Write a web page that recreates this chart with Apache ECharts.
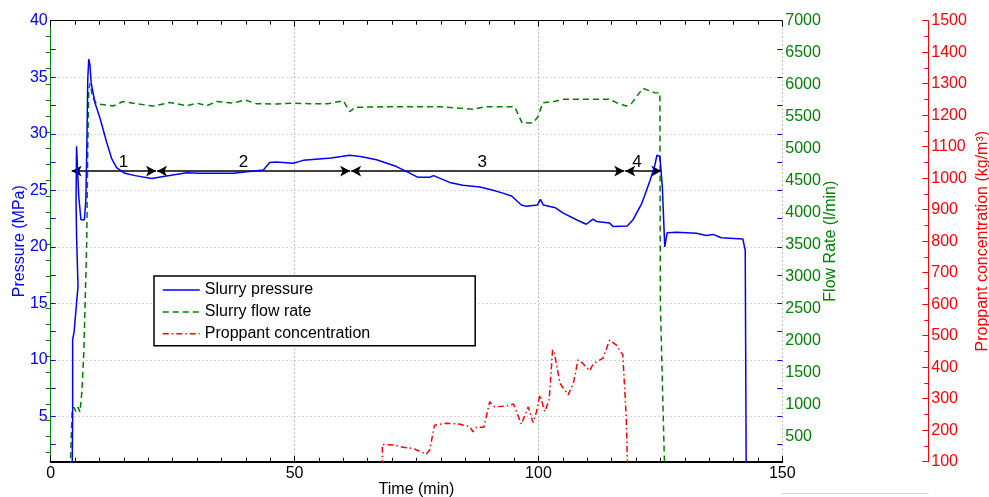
<!DOCTYPE html>
<html>
<head>
<meta charset="utf-8">
<script src="https://cdn.jsdelivr.net/npm/echarts@6/dist/echarts.min.js"></script>
<style>
html,body{margin:0;padding:0;background:#fff}
#main{width:989px;height:497px}
</style>
</head>
<body>
<div id="main"></div>
<script>
// slurry pressure (MPa) vs time (min)
var pressureTime = [4.4, 4.5, 4.5, 4.8, 5.6, 5.3, 5.2, 5.3, 5.65, 5.75, 6.2, 6.9, 7.2, 7.4, 7.6, 7.8, 8.05, 8.3, 9.1, 10.1, 11.5, 12.5, 13.5, 15.2, 17.3, 20.7, 23.4, 27.9, 30.6, 37.4, 43.6, 44.9, 46.3, 49.7, 51.8, 57.5, 61.3, 63.5, 66.8, 70.9, 73.0, 75.3, 77.7, 78.5, 81.8, 84.5, 88.0, 90.7, 92.7, 94.5, 96.5, 97.5, 99.8, 100.4, 101.0, 103.5, 105.0, 107.8, 109.8, 111.2, 111.9, 114.6, 115.3, 118.2, 119.4, 121.2, 122.9, 123.8, 124.3, 124.9, 125.4, 125.9, 126.4, 128.3, 132.4, 134.4, 135.8, 137.5, 141.9, 142.4, 142.6];
var pressureVal = [0, 5, 11.8, 12.5, 16.5, 21.0, 24.0, 28.9, 28.8, 24.5, 22.4, 22.4, 24.1, 28.6, 34.8, 36.6, 36.1, 34.5, 32.7, 31.4, 29.2, 27.8, 27.0, 26.5, 26.3, 26.05, 26.25, 26.55, 26.5, 26.5, 26.8, 27.45, 27.5, 27.4, 27.65, 27.85, 28.1, 28.0, 27.7, 27.1, 26.65, 26.15, 26.15, 26.3, 25.7, 25.45, 25.3, 25.0, 24.75, 24.5, 23.7, 23.6, 23.7, 24.2, 23.7, 23.45, 23.0, 22.4, 22.0, 22.45, 22.25, 22.1, 21.8, 21.85, 22.4, 23.85, 25.9, 27.1, 28.1, 28.0, 25.3, 20.0, 21.25, 21.3, 21.2, 21.0, 21.1, 20.8, 20.7, 19.7, 0];

// slurry flow rate (l/min)
var flowTime = [4.0, 4.4, 4.8, 5.2, 5.6, 6.0, 6.4, 6.8, 7.1, 7.4, 7.6, 7.8, 8.05, 8.6, 9.4, 12.8, 14.8, 17.6, 21.0, 24.4, 27.9, 29.9, 32.0, 34.0, 37.4, 39.8, 42.2, 46.3, 49.7, 53.1, 56.8, 60.0, 61.3, 62.4, 70.0, 80.0, 86.6, 89.0, 95.1, 96.7, 98.9, 99.9, 100.9, 103.0, 105.0, 111.9, 114.6, 116.0, 118.0, 119.1, 121.4, 123.8, 124.9, 125.0, 125.8, 125.9];
var flowVal = [0, 900, 950, 880, 950, 880, 1200, 1830, 2700, 3600, 5000, 5900, 6020, 5800, 5700, 5665, 5735, 5700, 5665, 5720, 5670, 5710, 5670, 5735, 5710, 5760, 5700, 5697, 5710, 5700, 5700, 5748, 5576, 5645, 5654, 5654, 5613, 5654, 5654, 5394, 5404, 5497, 5717, 5732, 5770, 5770, 5770, 5717, 5665, 5707, 5942, 5873, 5870, 2580, 180, 0];

// proppant concentration (kg/m3)
var propTime = [68.0, 68.0, 70.2, 72.3, 74.3, 77.0, 77.7, 78.7, 81.1, 83.9, 85.9, 86.6, 87.3, 88.8, 90.0, 91.0, 93.4, 94.9, 96.5, 97.9, 98.9, 99.6, 100.3, 101.3, 102.2, 102.9, 103.3, 104.4, 106.1, 107.2, 108.1, 109.1, 110.5, 111.3, 113.2, 114.6, 116.0, 117.3, 118.0, 118.4];
var propVal = [0, 155, 153, 146, 142, 124, 137, 216, 222, 219, 211, 195, 209, 209, 290, 274, 277, 283, 219, 274, 224, 259, 312, 259, 296, 455, 444, 349, 312, 351, 423, 412, 389, 412, 428, 486, 470, 439, 243, 0];

// stages 1-4 (arrows at constant pressure level)
var stageStart = [4.3, 21.8, 61.6, 117.8];
var stageEnd = [21.6, 61.4, 117.6, 125.2];
var stageLevel = 26.7;
var stageLabelTime = [14.9, 39.5, 88.5, 120.2];
var stageLabelLevel = 27.5;
var stageNames = ['1', '2', '3', '4'];

// tick values
var timeMin = 0, timeMax = 150, timeStep = 50;
var pressureMin = 1, pressureMax = 40;
var pressureLabels = [5, 10, 15, 20, 25, 30, 35, 40];
var pressureTicks = [2.5, 5, 7.5, 10, 12.5, 15, 17.5, 20, 22.5, 25, 27.5, 30, 32.5, 35, 37.5];
var pressureGrid = [5, 10, 15, 20, 25, 30, 35];
var flowMin = 100, flowMax = 7000;
var flowLabels = [500, 1000, 1500, 2000, 2500, 3000, 3500, 4000, 4500, 5000, 5500, 6000, 6500, 7000];
var flowTicks = [250, 500, 750, 1000, 1250, 1500, 1750, 2000, 2250, 2500, 2750, 3000, 3250, 3500, 3750, 4000, 4250, 4500, 4750, 5000, 5250, 5500, 5750, 6000, 6250, 6500, 6750];
var propMin = 100, propMax = 1500, propStep = 100;

var FONT = '"Liberation Sans", Arial, sans-serif';
var BLUE = '#0000ff', GREEN = '#008000', RED = '#ff0000';

function pairs(xs, ys) {
    return xs.map(function (x, i) { return [x, ys[i]]; });
}
function plain(v) { return String(v); }

var stageLines = stageStart.map(function (s, i) {
    return [{coord: [s, stageLevel]}, {coord: [stageEnd[i], stageLevel]}];
});
var stageLabelData = stageLabelTime.map(function (t, i) {
    return [t, stageLabelLevel, stageNames[i]];
});

var myChart = echarts.init(document.getElementById('main'));
var option = {
    animation: false,
    backgroundColor: '#fff',
    grid: [
        {left: 50.7, top: 20.7, right: 206.7, bottom: 35.3, outerBoundsMode: 'none', containLabel: false},
        {left: 782.3, right: 60.7, top: 492, bottom: 4, outerBoundsMode: 'none', containLabel: false}
    ],
    legend: {
        data: ['Slurry pressure', 'Slurry flow rate', 'Proppant concentration'],
        orient: 'vertical',
        left: 154,
        top: 276,
        itemWidth: 37,
        itemHeight: 14,
        itemGap: 5.9,
        padding: [6, 105, 4, 8],
        borderColor: '#000',
        borderWidth: 1.5,
        borderRadius: 0,
        backgroundColor: '#fff',
        itemStyle: {opacity: 0, borderWidth: 0},
        lineStyle: {width: 1.5},
        textStyle: {color: '#000', fontSize: 16, fontFamily: FONT}
    },
    xAxis: [
        {
            type: 'value', gridIndex: 0, position: 'bottom',
            min: timeMin, max: timeMax, interval: timeStep,
            name: 'Time (min)', nameLocation: 'middle', nameGap: 20, nameMoveOverlap: false,
            nameTextStyle: {color: '#000', fontSize: 16, fontFamily: FONT},
            axisLine: {lineStyle: {color: '#000', width: 2}},
            axisTick: {inside: true, length: 6, lineStyle: {color: '#000'}},
            minorTick: {show: true, splitNumber: 10, length: 4, lineStyle: {color: '#000'}},
            axisLabel: {color: '#000', fontSize: 16, fontFamily: FONT, margin: 4, formatter: plain},
            splitLine: {show: true, lineStyle: {color: '#888', type: [1, 3]}}
        },
        {
            type: 'value', gridIndex: 0, position: 'top',
            min: timeMin, max: timeMax, interval: timeStep,
            axisLine: {lineStyle: {color: '#000', width: 1}},
            axisTick: {inside: true, length: 6, lineStyle: {color: '#000'}},
            minorTick: {show: true, splitNumber: 10, length: 4, lineStyle: {color: '#000'}},
            axisLabel: {show: false},
            splitLine: {show: false}
        },
        {
            type: 'value', gridIndex: 1, min: 0, max: 1,
            axisLine: {lineStyle: {color: '#d8d8d8'}},
            axisTick: {show: false}, axisLabel: {show: false}, splitLine: {show: false}
        }
    ],
    yAxis: [
        {
            type: 'value', gridIndex: 0, position: 'left',
            min: pressureMin, max: pressureMax,
            name: 'Pressure (MPa)', nameLocation: 'middle', nameGap: 23, nameMoveOverlap: false,
            nameTextStyle: {color: BLUE, fontSize: 16, fontFamily: FONT},
            axisLine: {show: true, lineStyle: {color: BLUE}},
            axisTick: {inside: true, length: 5, customValues: pressureTicks, lineStyle: {color: BLUE}},
            axisLabel: {customValues: pressureLabels, color: BLUE, fontSize: 16, fontFamily: FONT, margin: 3, formatter: plain},
            splitLine: {show: false}
        },
        {
            type: 'value', gridIndex: 0, position: 'right', offset: 0,
            min: flowMin, max: flowMax,
            name: 'Flow Rate (l/min)', nameLocation: 'middle', nameGap: 40, nameMoveOverlap: false,
            nameTextStyle: {color: GREEN, fontSize: 16, fontFamily: FONT},
            axisLine: {show: true, lineStyle: {color: GREEN}},
            axisTick: {inside: true, length: 5, customValues: flowTicks, lineStyle: {color: GREEN}},
            axisLabel: {customValues: flowLabels, color: GREEN, fontSize: 16, fontFamily: FONT, margin: 3, formatter: plain},
            splitLine: {show: false}
        },
        {
            type: 'value', gridIndex: 0, position: 'right', offset: 146,
            min: propMin, max: propMax, interval: propStep,
            name: 'Proppant concentration (kg/m\u00b3)', nameLocation: 'middle', nameGap: 46, nameMoveOverlap: false,
            nameTextStyle: {color: RED, fontSize: 16, fontFamily: FONT},
            axisLine: {show: true, lineStyle: {color: RED}},
            axisTick: {inside: true, length: 6, lineStyle: {color: RED}},
            minorTick: {show: true, splitNumber: 2, length: 4, lineStyle: {color: RED}},
            axisLabel: {color: RED, fontSize: 16, fontFamily: FONT, margin: 3, formatter: plain},
            splitLine: {show: false}
        },
        {
            // pressure ticks mirrored on the right edge
            type: 'value', gridIndex: 0, position: 'right', offset: 0,
            min: pressureMin, max: pressureMax,
            axisLine: {show: false},
            axisTick: {inside: true, length: 5, customValues: pressureTicks, lineStyle: {color: BLUE}},
            axisLabel: {show: false},
            splitLine: {show: false}
        },
        {
            // dotted pressure grid
            type: 'value', gridIndex: 0, position: 'left', offset: 0,
            min: pressureMin, max: pressureMax,
            axisLine: {show: false},
            axisTick: {show: false, customValues: pressureGrid},
            axisLabel: {show: false},
            splitLine: {show: true, lineStyle: {color: '#a8a8ff', type: [1, 3]}}
        },
        {
            type: 'value', gridIndex: 1, min: 0, max: 1, show: false
        }
    ],
    series: [
        {
            name: 'Slurry pressure', type: 'line', xAxisIndex: 0, yAxisIndex: 0,
            data: pairs(pressureTime, pressureVal),
            symbol: 'none', showSymbol: false,
            color: BLUE,
            lineStyle: {color: BLUE, width: 1.5},
            z: 5,
            markLine: {
                silent: true,
                symbol: ['arrow', 'arrow'],
                symbolSize: [8, 10],
                lineStyle: {color: '#000', width: 1.5, type: 'solid'},
                label: {show: false},
                data: stageLines
            }
        },
        {
            name: 'Slurry flow rate', type: 'line', xAxisIndex: 0, yAxisIndex: 1,
            data: pairs(flowTime, flowVal),
            symbol: 'none', showSymbol: false,
            color: GREEN,
            lineStyle: {color: GREEN, width: 1.5, type: [6, 4]},
            z: 4
        },
        {
            name: 'Proppant concentration', type: 'line', xAxisIndex: 0, yAxisIndex: 2,
            data: pairs(propTime, propVal),
            symbol: 'none', showSymbol: false,
            color: RED,
            lineStyle: {color: RED, width: 1.5, type: [6, 3, 1.5, 3]},
            z: 3
        },
        {
            name: 'stages', type: 'scatter', xAxisIndex: 0, yAxisIndex: 0,
            data: stageLabelData,
            symbolSize: 0,
            silent: true,
            itemStyle: {color: '#000', opacity: 1},
            label: {
                show: true, position: 'inside', color: '#000', opacity: 1,
                textBorderWidth: 0, textBorderColor: 'transparent',
                fontSize: 17, fontFamily: FONT,
                formatter: function (p) { return p.value[2]; }
            },
            z: 6
        }
    ]
};
myChart.setOption(option);
</script>
</body>
</html>
